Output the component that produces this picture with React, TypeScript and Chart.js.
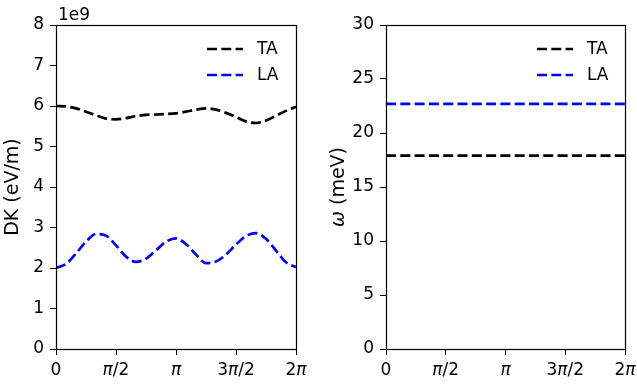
import React, { useEffect, useRef } from 'react';
import { Chart, registerables } from 'chart.js';

Chart.register(...registerables);

// phase positions in units of pi/12 (0 .. 24 = 2pi)
const phaseSteps = [0, 1, 2, 3, 4, 5, 6, 7, 8, 9, 10, 11, 12, 13, 14, 15, 16, 17, 18, 19, 20, 21, 22, 23, 24];
// DK values in units of 1e9 eV/m
const dkTA = [6.0, 5.99, 5.94, 5.86, 5.77, 5.69, 5.67, 5.70, 5.75, 5.78, 5.79, 5.80, 5.82, 5.86, 5.91, 5.94, 5.91, 5.83, 5.73, 5.62, 5.58, 5.64, 5.76, 5.88, 5.98];
const dkLA = [2.0, 2.1, 2.36, 2.65, 2.84, 2.8, 2.56, 2.28, 2.15, 2.23, 2.44, 2.65, 2.73, 2.59, 2.33, 2.12, 2.16, 2.33, 2.58, 2.79, 2.86, 2.72, 2.43, 2.14, 2.02];
const omegaSteps = [0, 24];
const omegaTA = [17.9, 17.9];
const omegaLA = [22.7, 22.7];
const xTickSteps = [0, 6, 12, 18, 24];
const xTickLabels = ['0', 'π/2', 'π', '3π/2', '2π'];
const seriesNames = ['TA', 'LA'];
const seriesColors = ['#000000', '#0000ff'];

const FONT = '17px "DejaVu Sans"';
const IFONT = 'italic 17px "DejaVu Sans"';
const TFONT = '19px "DejaVu Sans"';
const TIFONT = 'italic 19px "DejaVu Sans"';
const DASH = [10, 4.3];
const LW = 2.7;

type Part = { t: string; i: boolean };

function splitPi(s: string): Part[] {
  const parts: Part[] = [];
  let cur = '';
  for (const ch of s) {
    if (ch === 'π') {
      if (cur) parts.push({ t: cur, i: false });
      parts.push({ t: 'π', i: true });
      cur = '';
    } else cur += ch;
  }
  if (cur) parts.push({ t: cur, i: false });
  return parts;
}

function drawParts(ctx: CanvasRenderingContext2D, parts: Part[], cx: number, y: number, f = FONT, fi = IFONT) {
  let w = 0;
  for (const p of parts) {
    ctx.font = p.i ? fi : f;
    w += ctx.measureText(p.t).width;
  }
  let x = cx - w / 2;
  ctx.textAlign = 'left';
  for (const p of parts) {
    ctx.font = p.i ? fi : f;
    ctx.fillText(p.t, x, y);
    x += ctx.measureText(p.t).width;
  }
}

function makeDecor(opts: {
  yTitle: Part[];
  titleX: number;
  legendX: number;
  offsetText?: string;
}) {
  return {
    id: 'decor',
    afterDraw(chart: any) {
      const ctx: CanvasRenderingContext2D = chart.ctx;
      const a = chart.chartArea;
      const xs = chart.scales.x;
      ctx.save();
      ctx.fillStyle = '#000';
      ctx.strokeStyle = '#000';
      // spines
      ctx.lineWidth = 1.2;
      ctx.strokeRect(Math.round(a.left) + 0.5, Math.round(a.top) + 0.5, Math.round(a.right - a.left), Math.round(a.bottom - a.top));
      // x tick labels
      ctx.textBaseline = 'alphabetic';
      xTickSteps.forEach((v, i) => {
        drawParts(ctx, splitPi(xTickLabels[i]), xs.getPixelForValue(v), 375);
      });
      // y title
      ctx.save();
      ctx.translate(opts.titleX, (a.top + a.bottom) / 2);
      ctx.rotate(-Math.PI / 2);
      drawParts(ctx, opts.yTitle, 0, 0, TFONT, TIFONT);
      ctx.restore();
      // offset text
      if (opts.offsetText) {
        ctx.font = FONT;
        ctx.textAlign = 'left';
        ctx.fillText(opts.offsetText, a.left + 2, 20);
      }
      // legend
      const rows = [49, 75];
      chart.data.datasets.forEach((ds: any, i: number) => {
        const y = rows[i];
        ctx.save();
        ctx.strokeStyle = ds.borderColor;
        ctx.lineWidth = LW;
        ctx.setLineDash(DASH);
        ctx.beginPath();
        ctx.moveTo(opts.legendX, y);
        ctx.lineTo(opts.legendX + 36, y);
        ctx.stroke();
        ctx.restore();
        ctx.font = FONT;
        ctx.textAlign = 'left';
        ctx.textBaseline = 'middle';
        ctx.fillText(ds.label, opts.legendX + 50, y + 1);
      });
      ctx.restore();
    },
  };
}

function makeConfig(
  xs: number[],
  series: number[][],
  yMax: number,
  yStep: number,
  yWidth: number,
  rightPad: number,
  decor: any
): any {
  return {
    type: 'line',
    data: {
      datasets: series.map((vals, i) => ({
        label: seriesNames[i],
        data: vals.map((v, j) => ({ x: xs[j], y: v })),
        borderColor: seriesColors[i],
        borderWidth: LW,
        borderDash: DASH,
        pointRadius: 0,
        fill: false,
        cubicInterpolationMode: 'monotone',
      })),
    },
    options: {
      responsive: false,
      animation: false,
      events: [],
      layout: { padding: { top: 25, right: rightPad, left: 0, bottom: 0 } },
      plugins: { legend: { display: false }, tooltip: { enabled: false }, title: { display: false } },
      scales: {
        x: {
          type: 'linear',
          min: 0,
          max: 24,
          border: { display: false },
          grid: { drawOnChartArea: false, drawTicks: true, tickLength: 6, color: '#000', lineWidth: 1 },
          ticks: { stepSize: 6, display: false },
          afterFit(s: any) {
            s.height = 37;
          },
        },
        y: {
          min: 0,
          max: yMax,
          border: { display: false },
          grid: { drawOnChartArea: false, drawTicks: true, tickLength: 6, color: '#000', lineWidth: 1 },
          ticks: {
            stepSize: yStep,
            padding: 6,
            color: '#000',
            font: { family: 'DejaVu Sans', size: 17 },
          },
          afterFit(s: any) {
            s.width = yWidth;
          },
        },
      },
    },
    plugins: [decor],
  };
}

export default function App() {
  const leftRef = useRef<HTMLCanvasElement>(null);
  const rightRef = useRef<HTMLCanvasElement>(null);

  useEffect(() => {
    const left = new Chart(
      leftRef.current!,
      makeConfig(
        phaseSteps,
        [dkTA, dkLA],
        8,
        1,
        56,
        22,
        makeDecor({ yTitle: [{ t: 'DK (eV/m)', i: false }], titleX: 18, legendX: 207, offsetText: '1e9' })
      )
    );
    const right = new Chart(
      rightRef.current!,
      makeConfig(
        omegaSteps,
        [omegaTA, omegaLA],
        30,
        5,
        68,
        12,
        makeDecor({ yTitle: [{ t: 'ω', i: true }, { t: ' (meV)', i: false }], titleX: 26, legendX: 219 })
      )
    );
    return () => {
      left.destroy();
      right.destroy();
    };
  }, []);

  return (
    <div style={{ position: 'absolute', left: 0, top: 0, width: 637, height: 386, background: '#fff' }}>
      <canvas ref={leftRef} width={318} height={386} style={{ position: 'absolute', left: 0, top: 0 }} />
      <canvas ref={rightRef} width={319} height={386} style={{ position: 'absolute', left: 318, top: 0 }} />
    </div>
  );
}
